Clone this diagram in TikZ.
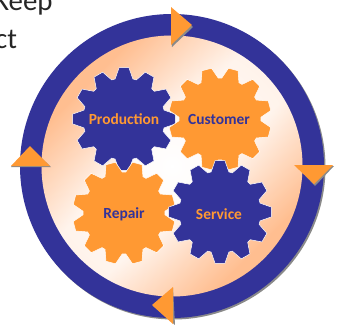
\documentclass[tikz,border=0pt]{standalone}
\usepackage{fontspec}
\usetikzlibrary{fadings}
\setmainfont{Carlito}
\definecolor{ringblue}{HTML}{333399}
\definecolor{gearorange}{HTML}{FF9933}
\definecolor{peach}{HTML}{FFBE90}
\definecolor{shadowgrey}{HTML}{8A8A8A}
\pgfdeclareverticalshading{peachband}{100bp}{color(0bp)=(peach);color(27bp)=(peach);color(44bp)=(white);color(56bp)=(white);color(73bp)=(peach);color(100bp)=(peach)}
\tikzfading[name=edgefade, inner color=transparent!100, outer color=transparent!82]
\tikzset{
  bluegear/.style={fill=ringblue,draw=white,line width=0.5bp},
  orangegear/.style={fill=gearorange,draw=white,line width=0.5bp},
  geartext/.style={font=\bfseries\fontsize{15.5}{17}\selectfont,inner sep=0pt},
  bodytext/.style={font=\fontsize{29}{32}\selectfont,anchor=base west,inner sep=0pt,text=black!85},
  arrowhead/.style={fill=gearorange},
  arrowshadow/.style={fill=shadowgrey}
}
\newcommand{\gearshape}[4]{%
  \filldraw[#4] (#1,#2) ++(#3-12.5:41) 
    \foreach \t in {0,30,...,330}{
      -- ([shift={(#1,#2)}]#3+\t-12.5:41)
      -- ([shift={(#1,#2)}]#3+\t-5.5:51.5)
      -- ([shift={(#1,#2)}]#3+\t+5.5:51.5)
      -- ([shift={(#1,#2)}]#3+\t+12.5:41)
    } -- cycle;
}
\begin{document}
\begin{tikzpicture}[x=1bp,y=-1bp]
\useasboundingbox (0,0) rectangle (337,325);
\clip (0,0) rectangle (337,325);
\fill[white] (0,0) rectangle (337,325);
% body text fragments
\node[bodytext] (keep) at (-6,10) {Keep};
\node[bodytext] (ct) at (-5,48) {ct};
% ring with its shadow
\fill[shadowgrey] (173.5,167.5) circle (152);
\fill[ringblue] (172,166) circle (152);
% peach disc
\shade[shading=peachband,shading angle=45] (172,166) circle (130.5);
\fill[peach,path fading=edgefade] (172,166) circle (130.5);
% gears
\gearshape{124}{119}{0}{bluegear}
\gearshape{220}{119}{15}{orangegear}
\gearshape{124}{213}{15}{orangegear}
\gearshape{220}{212}{0}{bluegear}
\node[geartext,text=gearorange] (production) at (124,119) {Production};
\node[geartext,text=ringblue] (customer) at (219,119) {Customer};
\node[geartext,text=ringblue] (repair) at (124,214) {Repair};
\node[geartext,text=gearorange] (service) at (219,214) {Service};
% arrowheads
\fill[arrowshadow] (171,9) -- (193,27) -- (172,47) -- cycle;
\fill[arrowhead] (171,7) -- (192,25) -- (171,45) -- cycle;
\fill[arrowshadow] (296,166) -- (334,166) -- (315,186) -- cycle;
\fill[arrowhead] (294,165) -- (333,165) -- (314,184) -- cycle;
\fill[arrowshadow] (173,288) -- (175,325) -- (153,306) -- cycle;
\fill[arrowhead] (173,287) -- (173,324) -- (152,305) -- cycle;
\fill[arrowshadow] (11,167) -- (51,167) -- (30,147) -- cycle;
\fill[arrowhead] (11,166) -- (50,166) -- (30,146) -- cycle;
\end{tikzpicture}
\end{document}
